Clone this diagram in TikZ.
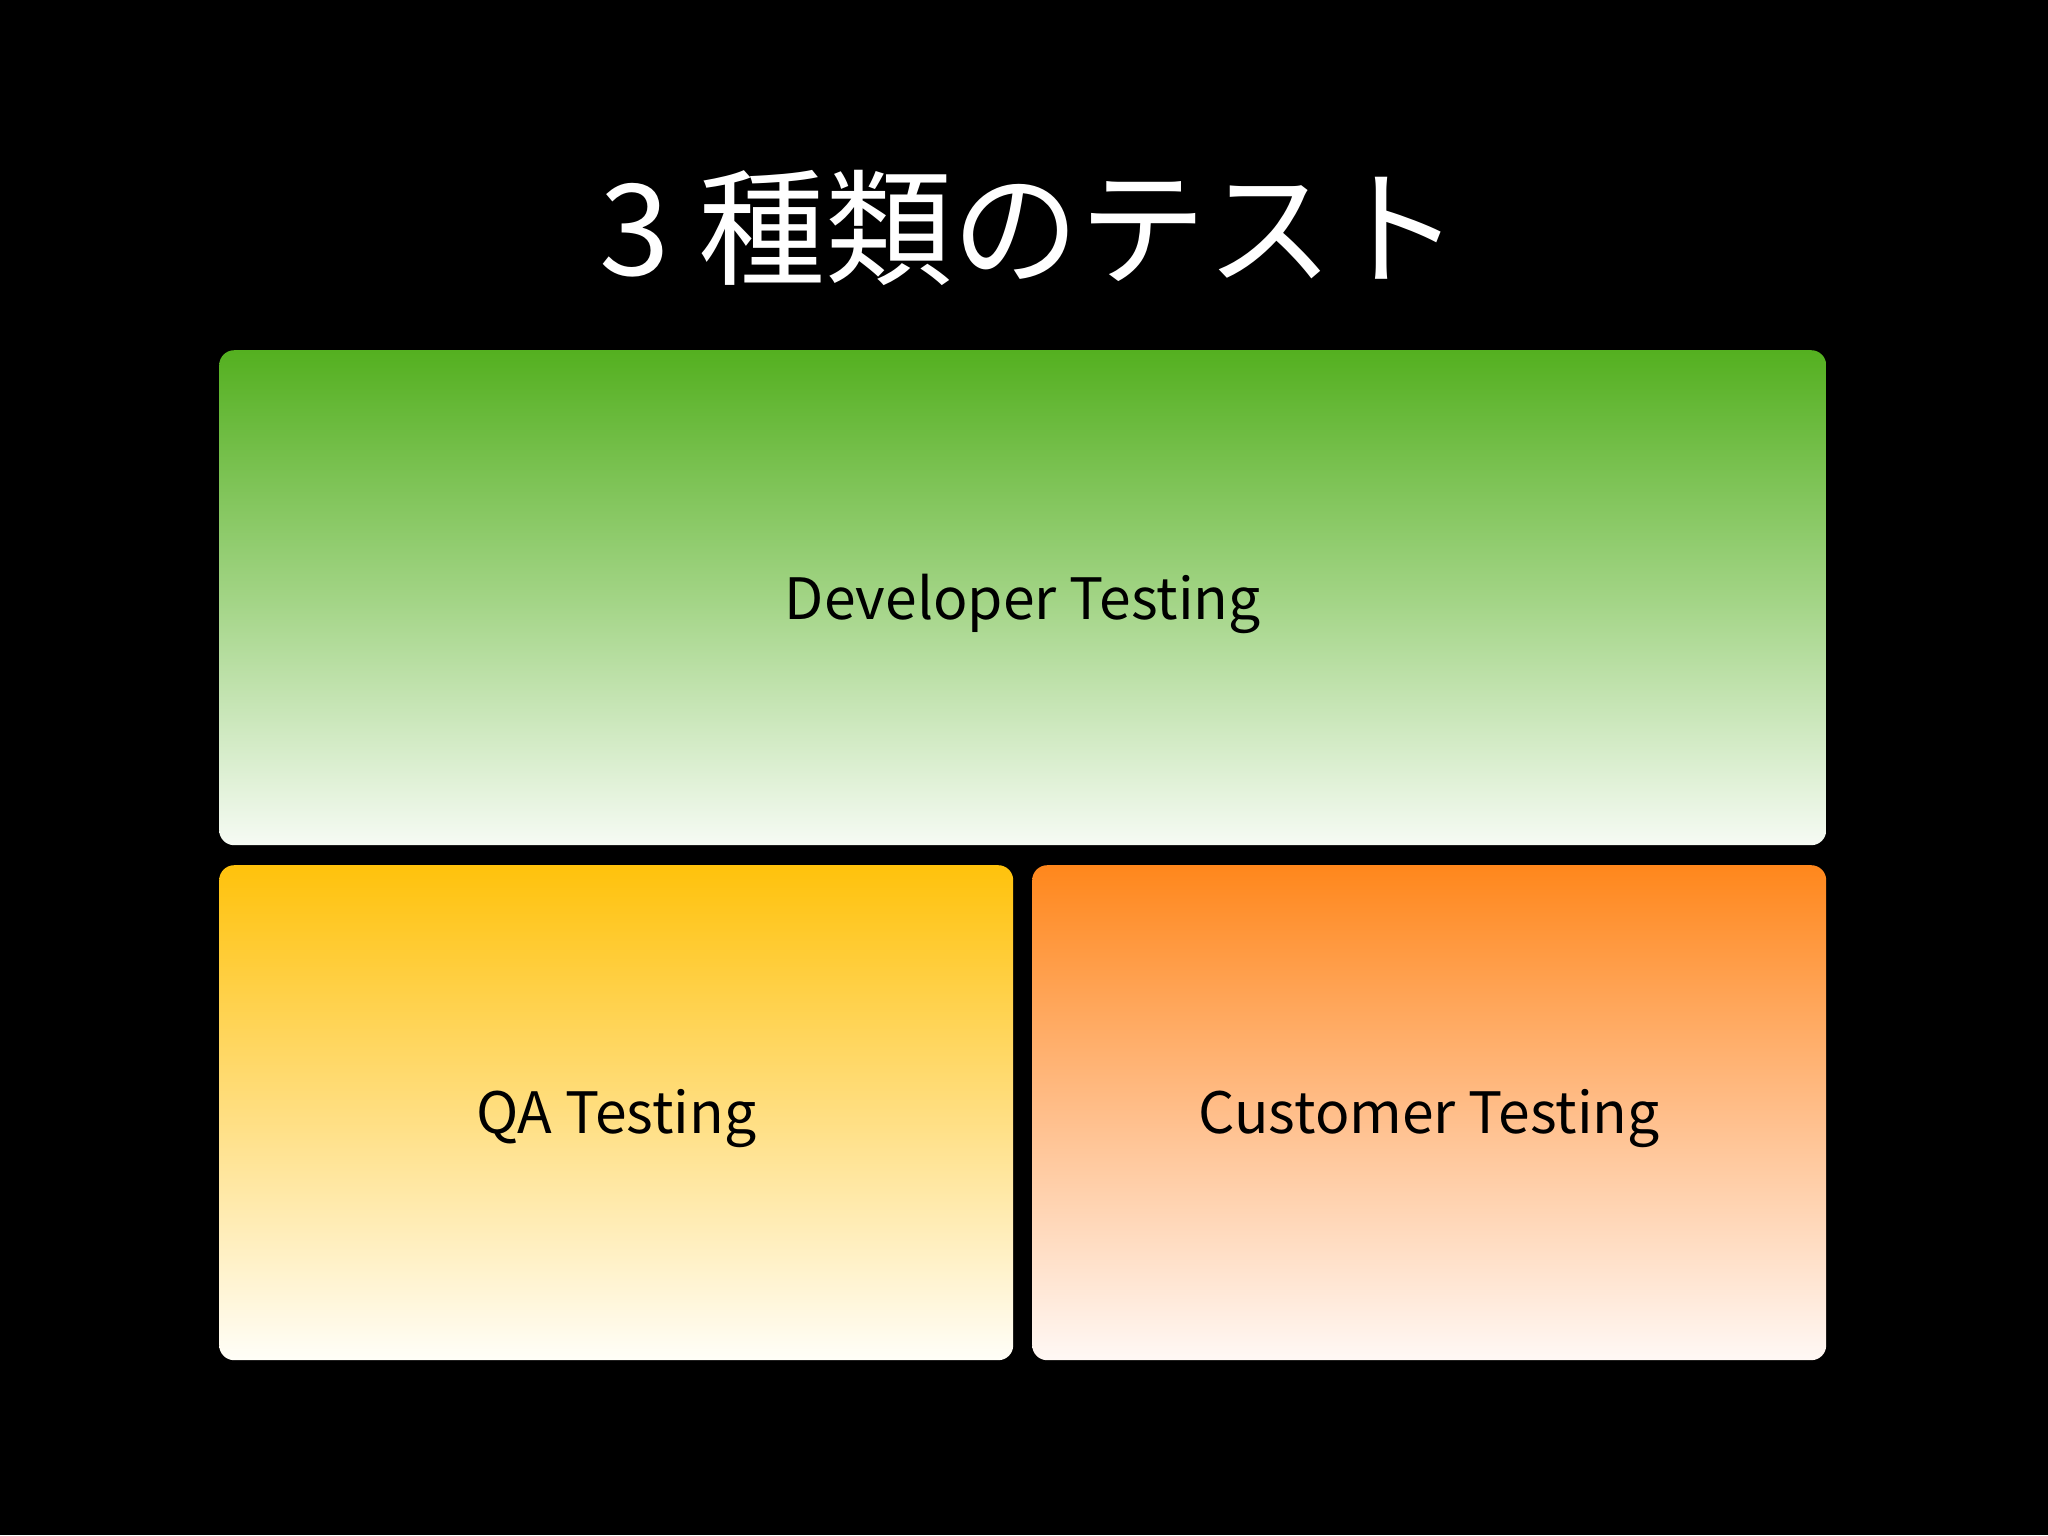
\documentclass[tikz,border=0pt]{standalone}
\usepackage{fontspec}
\setmainfont{Noto Sans CJK JP}
\definecolor{gtop}{HTML}{54B020}
\definecolor{gmid}{HTML}{A2D485}
\definecolor{gbot}{HTML}{F6FBF4}
\definecolor{qtop}{HTML}{FFC20C}
\definecolor{qmid}{HTML}{FFDE80}
\definecolor{qbot}{HTML}{FFFEF8}
\definecolor{ctop}{HTML}{FF871C}
\definecolor{cmid}{HTML}{FFBE8A}
\definecolor{cbot}{HTML}{FFF8F5}
\begin{document}
\begin{tikzpicture}[x=1pt,y=-1pt,
  panel/.style={rounded corners=15pt, inner sep=0pt, anchor=north west,
    text depth=0pt, text height=0pt},
  label/.style={font=\fontsize{57}{68}\selectfont, text=black}]
\fill[black] (0,0) rectangle (2048,1535);
\useasboundingbox (0,0) rectangle (2048,1535);
\node[text=white, font=\fontsize{127}{140}\selectfont] (title) at (1030,228) {3 種類のテスト};
\node[panel, minimum width=1607pt, minimum height=495pt,
  top color=gtop, bottom color=gbot, middle color=gmid] (dev) at (219,350) {};
\node[label] (devlabel) at ([yshift=-6pt]dev.center) {Developer Testing};
\node[panel, minimum width=794pt, minimum height=495pt,
  top color=qtop, bottom color=qbot, middle color=qmid] (qa) at (219,865) {};
\node[label] (qalabel) at ([yshift=-6pt]qa.center) {QA Testing};
\node[panel, minimum width=794pt, minimum height=495pt,
  top color=ctop, bottom color=cbot, middle color=cmid] (cust) at (1032,865) {};
\node[label] (custlabel) at ([yshift=-6pt]cust.center) {Customer Testing};
\end{tikzpicture}
\end{document}
